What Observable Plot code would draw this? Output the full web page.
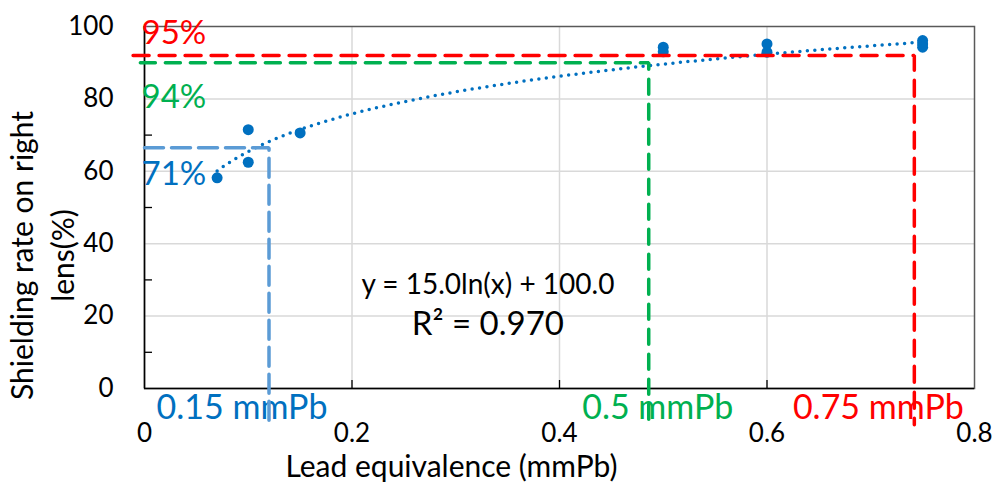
<!DOCTYPE html>
<html>
<head>
<meta charset="utf-8">
<script src="https://cdn.jsdelivr.net/npm/d3@7"></script>
<script src="https://cdn.jsdelivr.net/npm/@observablehq/plot@0.6"></script>
<style>
html, body { margin: 0; padding: 0; background: #fff; }
#chart svg { display: block; }
</style>
</head>
<body>
<div id="chart"></div>
<script>
// ---- data ----
const leadEq     = [0.07, 0.10, 0.10, 0.15, 0.50, 0.50, 0.60, 0.60, 0.75, 0.75, 0.75];
const shieldRate = [58.2, 71.5, 62.5, 70.6, 94.3, 93.0, 95.2, 92.9, 96.1, 95.2, 94.3];

const xTicks = [0, 0.2, 0.4, 0.6, 0.8];
const xTickLabels = ["0", "0.2", "0.4", "0.6", "0.8"];
const yTicks = [0, 20, 40, 60, 80, 100];
const yTickLabels = ["0", "20", "40", "60", "80", "100"];
const yMinorTicks = [10, 30, 50, 70, 90];

const trendA = 15.0;   // y = a ln(x) + b
const trendB = 100.0;
const rSquared = "0.970";

const thresholdLead = [0.12, 0.486, 0.742];
const thresholdRate = [66.5, 90.0, 92.0];
const thresholdPct  = ["71%", "94%", "95%"];
const thresholdMm   = ["0.15 mmPb", "0.5 mmPb", "0.75 mmPb"];
const guideStart = [0, -0.004, -0.011];
const dropTo = -10;

// ---- styles ----
const blue = "#0070C0";
const lineColor = ["#5B9BD5", "#00B050", "#FF0000"];
const textColor = ["#0070C0", "#00B050", "#FF0000"];
const dashes    = ["19,8", "15,10", "16,10"];
const pctDy     = [27, 35, -22];
const mmDx      = [-27, 9, -36];
const font = "Lato, 'Open Sans', sans-serif";

// ---- derived tables ----
const points = leadEq.map((x, i) => ({x, y: shieldRate[i]}));
const xMin = d3.min(leadEq), xMax = d3.max(leadEq);
const trend = d3.range(0, 201).map(i => {
  const x = xMin + (xMax - xMin) * i / 200;
  return {x, y: trendA * Math.log(x) + trendB};
});
const paths = thresholdLead.map((l, i) => [
  {x: guideStart[i], y: thresholdRate[i]},
  {x: l, y: thresholdRate[i]},
  {x: l, y: dropTo}
]);

const marks = [
  Plot.gridX(xTicks.slice(1, -1), {stroke: "#d9d9d9", strokeOpacity: 1, strokeWidth: 1.5}),
  Plot.gridY(yTicks.slice(1, -1), {stroke: "#d9d9d9", strokeOpacity: 1, strokeWidth: 1.5}),
  Plot.frame({stroke: "#595959", strokeWidth: 1.5}),
  Plot.ruleX([0], {stroke: "#000", strokeWidth: 1.5}),
  Plot.ruleY([0], {stroke: "#000", strokeWidth: 1.5}),
  Plot.tickY(yMinorTicks, {y: d => d, stroke: "#000", strokeWidth: 1.3, insetRight: 822}),
  Plot.tickX(xTicks.slice(1, -1), {x: d => d, stroke: "#000", strokeWidth: 1.3, insetTop: 354}),
  // tick labels
  Plot.text(yTicks, {x: 0, y: d => d, text: (d, i) => yTickLabels[i], textAnchor: "end", dx: -31, fontSize: 26, fontFamily: font, fill: "#000"}),
  Plot.text(xTicks, {x: d => d, y: 0, text: (d, i) => xTickLabels[i], dy: 45, fontSize: 26, fontFamily: font, fill: "#000"}),
  // axis titles
  Plot.text(["Lead equivalence (mmPb)"], {text: d => d, frameAnchor: "bottom", textAnchor: "middle", lineAnchor: "middle", dx: -108, dy: 79, fontSize: 30, fontFamily: font, fill: "#000"}),
  Plot.text(["Shielding rate on right\nlens(%)"], {text: d => d, frameAnchor: "left", textAnchor: "middle", lineAnchor: "middle", dx: -104, dy: 48, rotate: -90, lineHeight: 1.35, fontSize: 30, fontFamily: font, fill: "#000"}),
  // equation
  Plot.text([`y = ${trendA.toFixed(1)}ln(x) + ${trendB.toFixed(1)}`], {text: d => d, x: 0.331, y: 28.7, fontSize: 28, fontFamily: font, fill: "#000"}),
  Plot.text([`R² = ${rSquared}`], {text: d => d, x: 0.331, y: 17.7, fontSize: 33, fontFamily: font, fill: "#000"}),
  // threshold labels
  ...thresholdPct.map((t, i) => Plot.text([t], {text: d => d, x: 0, y: thresholdRate[i], dy: pctDy[i], dx: -3, textAnchor: "start", fontSize: 33, fontFamily: font, fill: textColor[i]})),
  ...thresholdMm.map((t, i) => Plot.text([t], {text: d => d, x: thresholdLead[i], y: 0, dy: 20, dx: mmDx[i], fontSize: 34, fontFamily: font, fill: textColor[i]})),
  // data
  Plot.dot(points, {x: "x", y: "y", r: 5.5, fill: blue, stroke: "none"}),
  Plot.line(trend, {x: "x", y: "y", stroke: blue, strokeWidth: 3.5, strokeDasharray: "0,7.5", strokeLinecap: "round"}),
  // threshold dashed guides
  ...paths.map((p, i) => Plot.line(p, {x: "x", y: "y", stroke: lineColor[i], strokeWidth: 3.5, strokeDasharray: dashes[i], strokeLinejoin: "miter"}))
];

const chart = Plot.plot({
  width: 995,
  height: 484,
  marginLeft: 144,
  marginRight: 21,
  marginTop: 26,
  marginBottom: 96,
  x: {domain: [-0.011, 0.8], range: [144 - 0.011 * 1037.5, 974], axis: null},
  y: {domain: [0, 100], axis: null},
  style: {fontFamily: font, background: "#fff", overflow: "visible"},
  marks
});
document.getElementById("chart").appendChild(chart);
</script>
</body>
</html>
